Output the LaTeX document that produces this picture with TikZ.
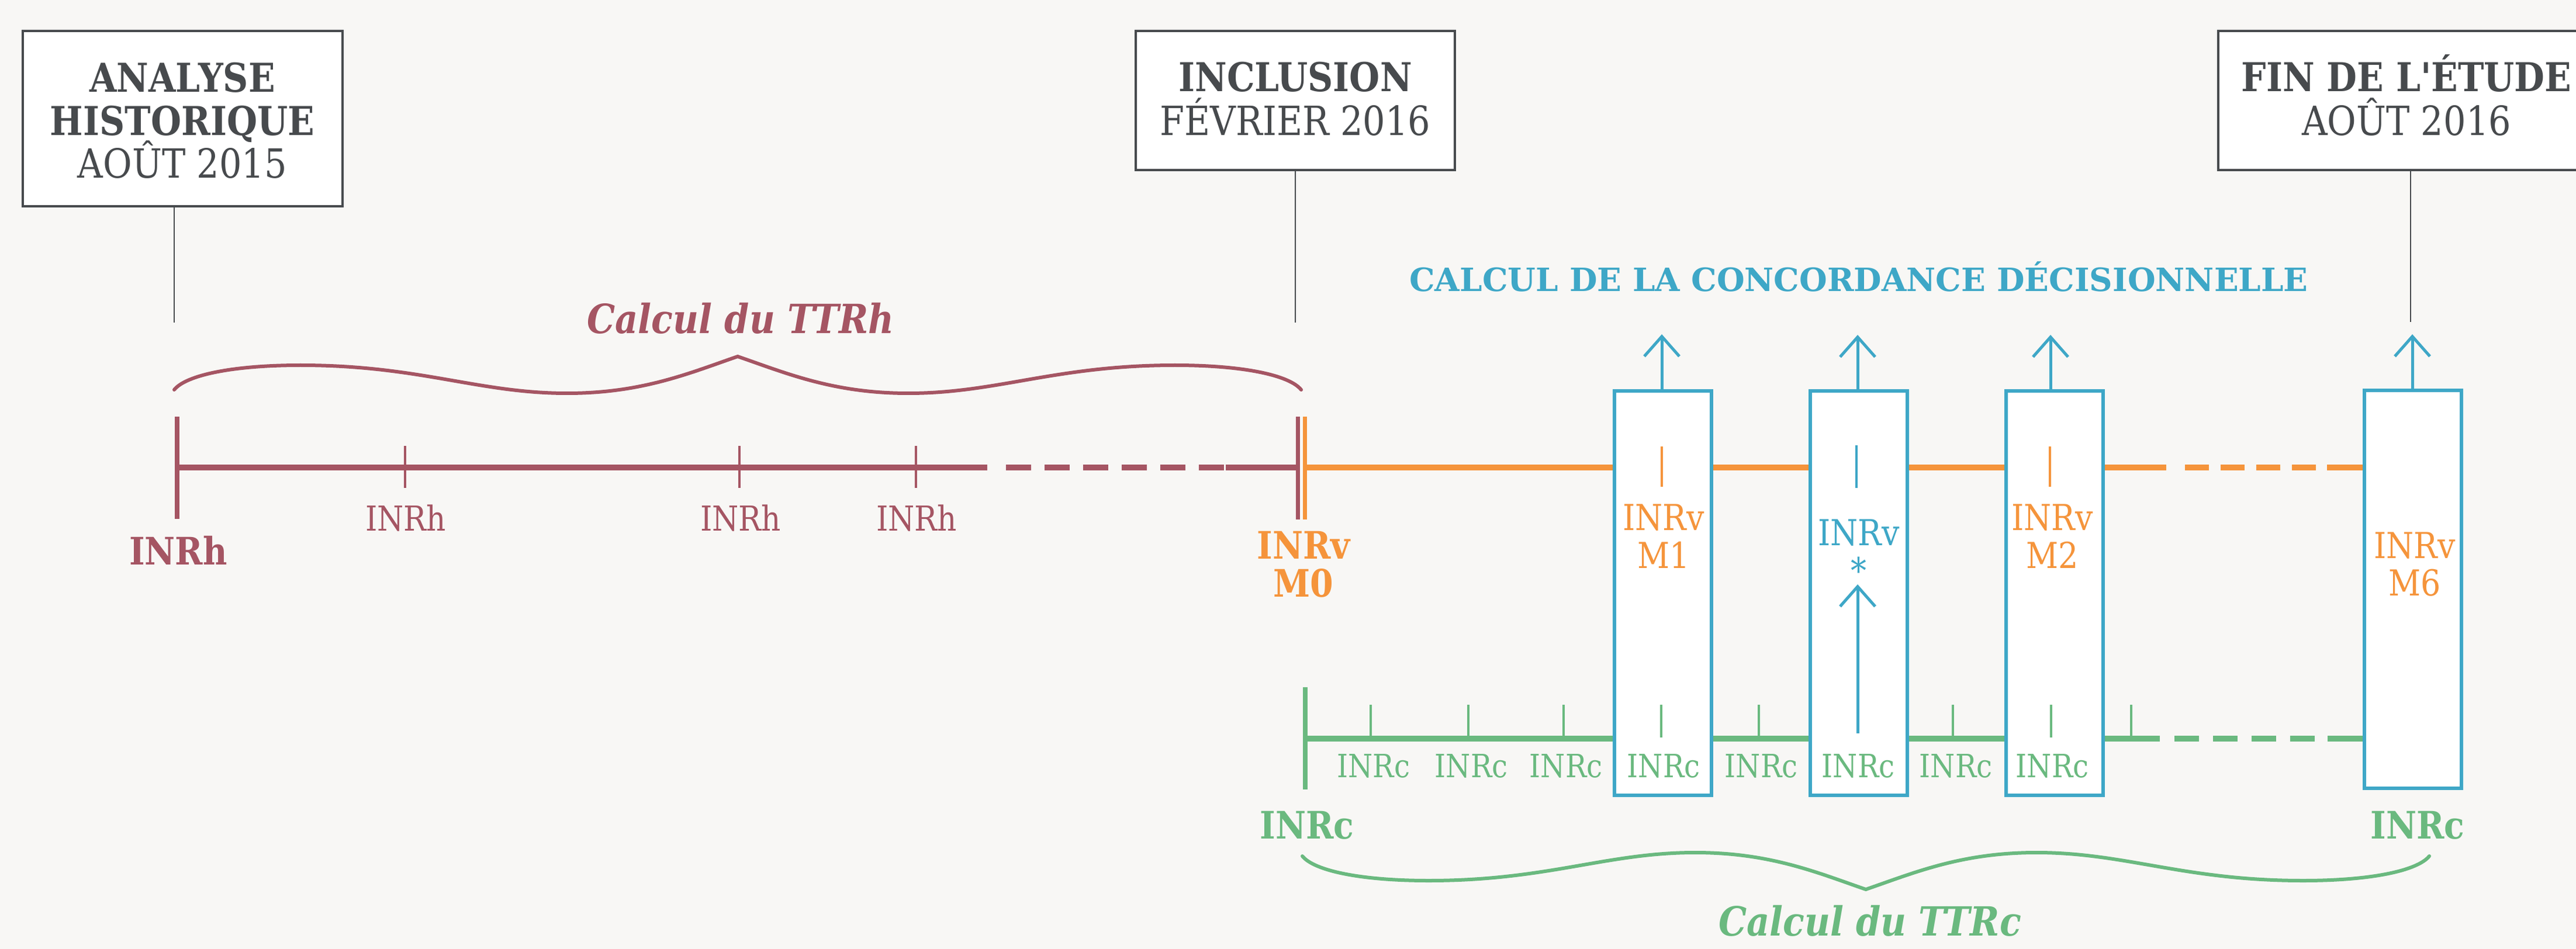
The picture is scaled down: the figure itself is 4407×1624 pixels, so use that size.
\documentclass[tikz,border=0pt]{standalone}
\usepackage{fontspec}
\setmainfont{DejaVu Serif}
\newfontfamily\slab[FakeStretch=0.88]{DejaVu Serif}
\newfontfamily\slabwide[FakeStretch=1.0]{DejaVu Serif}
\usetikzlibrary{arrows.meta}
\definecolor{bg}{HTML}{F8F7F5}
\definecolor{ink}{HTML}{474A4D}
\definecolor{maroon}{HTML}{A55563}
\definecolor{orng}{HTML}{F5943B}
\definecolor{blu}{HTML}{3EA7C7}
\definecolor{grn}{HTML}{6AB97F}
\tikzset{
  txt/.style={inner sep=0pt, anchor=base},
  title/.style={txt, text=ink, font={\slab\bfseries\fontsize{17pt}{20pt}\selectfont}},
  date/.style={txt, text=ink, font={\slab\fontsize{17.2pt}{20pt}\selectfont}},
  calc/.style={txt, font={\slab\bfseries\itshape\fontsize{17.2pt}{20pt}\selectfont}},
  concord/.style={txt, text=blu, font={\slabwide\bfseries\fontsize{13.7pt}{16pt}\selectfont}},
  smallh/.style={txt, text=maroon, font={\slab\fontsize{14.7pt}{17pt}\selectfont}},
  smallc/.style={txt, text=grn, font={\slab\fontsize{13.7pt}{16pt}\selectfont}},
  biglbl/.style={txt, font={\slab\bfseries\fontsize{16.2pt}{19pt}\selectfont}},
  midlbl/.style={txt, font={\slab\fontsize{15.3pt}{18pt}\selectfont}},
  frame/.style={draw=ink, line width=0.9pt, fill=white, inner sep=0pt},
  vbox/.style={draw=blu, line width=1.5pt, fill=white, inner sep=0pt, minimum width=41.5pt},
  axis/.style={line width=2.5pt},
  gaxis/.style={line width=2.4pt},
  bigtick/.style={line width=1.8pt},
  smalltick/.style={line width=1.1pt},
  stem/.style={draw=ink, line width=0.6pt},
  arr/.style={draw=blu, line width=1.25pt, -{Straight Barb[length=8.5pt,width=15pt]}},
  brc/.style={line width=1.5pt, line cap=round},
  curly/.pic={\draw[brc] (0,0) .. controls (20,-25) and (100,-42) .. (216,-42)
     .. controls (420,-42) and (520,6) .. (672,6)
     .. controls (800,6) and (880,-28) .. (964,-57)
     .. controls (1048,-28) and (1128,6) .. (1256,6)
     .. controls (1408,6) and (1508,-42) .. (1712,-42)
     .. controls (1828,-42) and (1908,-25) .. (1928,0);}
}
\begin{document}
\begin{tikzpicture}[x=0.25pt,y=-0.25pt]
\fill[bg] (0,0) rectangle (4407,1624);
\useasboundingbox (0,0) rectangle (4407,1624);

% header boxes
\node[frame, minimum width=136.75pt, minimum height=75pt] (box1) at (312.5,203) {};
\node[frame, minimum width=136.5pt, minimum height=59.5pt] (box2) at (2216,172) {};
\node[frame, minimum width=160.5pt, minimum height=59.5pt] (box3) at (4116,172) {};
\node[title] (t1a) at (312,158) {ANALYSE};
\node[title] (t1b) at (312,232) {HISTORIQUE};
\node[date] (t1c) at (312,305) {AOÛT 2015};
\node[title] (t2a) at (2216,157) {INCLUSION};
\node[date] (t2b) at (2216,232) {FÉVRIER 2016};
\node[title] (t3a) at (4117,157) {FIN DE L'ÉTUDE};
\node[date] (t3b) at (4117,232) {AOÛT 2016};
\coordinate (s1) at (298,552);
\coordinate (s2) at (2216,552);
\coordinate (s3) at (4124,551);
\draw[stem] (s1 |- box1.south) -- (s1);
\draw[stem] (s2 |- box2.south) -- (s2);
\draw[stem] (s3 |- box3.south) -- (s3);

% braces
\pic[color=maroon] (brh) at (298,667) {curly};
\pic[color=grn, yscale=-1] (brc) at (2228,1465) {curly};
\node[calc, text=maroon] (cttrh) at (1267,571) {Calcul du TTRh};
\node[calc, text=grn] (cttrc) at (3199,1601) {Calcul du TTRc};
\node[concord] (concord) at (3180,499) {CALCUL DE LA CONCORDANCE DÉCISIONNELLE};

% maroon axis
\draw[maroon, axis] (303,800) -- (1689,800);
\draw[maroon, axis, dash pattern=on 10.75pt off 5.75pt] (1721,800) -- (2094,800);
\draw[maroon, axis] (2097,800) -- (2220,800);
\draw[maroon, bigtick] (303,713) -- (303,888);
\foreach \x in {693,1265,1567} \draw[maroon, smalltick] (\x,763) -- (\x,835);
\draw[maroon, bigtick] (2220.5,713) -- (2220.5,889);
\draw[orng, bigtick] (2232.5,713) -- (2232.5,889);
\node[biglbl, text=maroon] (inrh0) at (305,966) {INRh};
\node[smallh] (inrh1) at (694,908) {INRh};
\node[smallh] (inrh2) at (1267,908) {INRh};
\node[smallh] (inrh3) at (1568,908) {INRh};
\node[biglbl, text=orng] (m0a) at (2230,956) {INRv};
\node[biglbl, text=orng] (m0b) at (2230,1021) {M0};

% orange axis
\draw[orng, axis] (2236,800) -- (3706,800);
\draw[orng, axis, dash pattern=on 10.125pt off 5.125pt] (3738,800) -- (3962,800);
\draw[orng, axis] (3981,800) -- (4128,800);

% green axis
\draw[grn, gaxis] (2233,1264) -- (3695,1264);
\draw[grn, gaxis, dash pattern=on 10.5pt off 6pt] (3720,1264) -- (3960,1264);
\draw[grn, gaxis] (3982,1264) -- (4128,1264);
\draw[grn, bigtick] (2233,1176) -- (2233,1351);
\foreach \x in {2345,2512,2675,3009,3341,3646} \draw[grn, smalltick] (\x,1206) -- (\x,1264);
\node[biglbl, text=grn] (inrc0) at (2236,1435) {INRc};
\node[biglbl, text=grn] (inrc9) at (4136,1435) {INRc};

% blue boxes
\node[vbox, minimum height=173pt] (bm1) at (2845,1015) {};
\node[vbox, minimum height=173pt] (bst) at (3180,1015) {};
\node[vbox, minimum height=173pt] (bm2) at (3514.5,1015) {};
\node[vbox, minimum height=170.25pt] (bm6) at (4128,1008.5) {};

% ticks inside boxes
\draw[orng, smalltick] (2843,764) -- (2843,833);
\draw[blu, line width=1.2pt] (3176,762) -- (3176,835);
\draw[orng, smalltick] (3507,764) -- (3507,833);
\draw[grn, smalltick] (2842,1206) -- (2842,1262);
\draw[grn, smalltick] (3509,1206) -- (3509,1262);

% arrows
\coordinate (a1) at (2843,572);
\coordinate (a2) at (3178,573);
\coordinate (a3) at (3508,573);
\coordinate (a4) at (4127,572);
\draw[arr] (a1 |- bm1.north) -- (a1);
\draw[arr] (a2 |- bst.north) -- (a2);
\draw[arr] (a3 |- bm2.north) -- (a3);
\draw[arr] (a4 |- bm6.north) -- (a4);
\coordinate (ia0) at (3178,1255);
\coordinate (ia1) at (3178,1000);
\draw[arr] (ia0) -- (ia1);

% labels in boxes
\node[midlbl, text=orng] (m1a) at (2846,907) {INRv};
\node[midlbl, text=orng] (m1b) at (2846,972) {M1};
\node[midlbl, text=blu] (sta) at (3180,933) {INRv};
\node[midlbl, text=blu] (stb) at (3180,998) {*};
\node[midlbl, text=orng] (m2a) at (3511,907) {INRv};
\node[midlbl, text=orng] (m2b) at (3511,972) {M2};
\node[midlbl, text=orng] (m6a) at (4131,955) {INRv};
\node[midlbl, text=orng] (m6b) at (4131,1019) {M6};

% INRc labels
\foreach \x [count=\i] in {2350,2517,2679,2846,3013,3179,3346,3511}
  \node[smallc] (inrc\i) at (\x,1330) {INRc};
\end{tikzpicture}
\end{document}
